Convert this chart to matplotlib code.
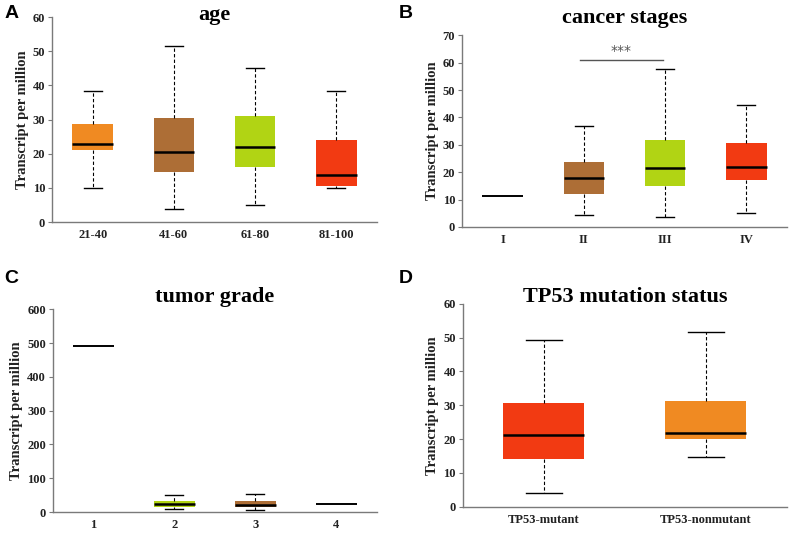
import matplotlib
matplotlib.use("Agg")
import matplotlib.pyplot as plt

# colours used in the figure
ORANGE = "#F08A22"
BROWN = "#AD6E36"
LIME = "#B1D414"
RED = "#F23A12"

# A: age
age_labels = ["21-40", "41-60", "61-80", "81-100"]
age_whislo = [10.0, 3.8, 5.0, 10.0]
age_q1 = [21.0, 14.6, 16.0, 10.6]
age_med = [22.8, 20.6, 22.0, 13.9]
age_q3 = [28.8, 30.6, 31.2, 24.0]
age_whishi = [38.5, 51.5, 45.0, 38.4]
age_colors = [ORANGE, BROWN, LIME, RED]

# B: cancer stages
stage_labels = ["I", "II", "III", "IV"]
stage_whislo = [11.3, 4.3, 3.8, 5.0]
stage_q1 = [11.3, 12.0, 15.0, 17.2]
stage_med = [11.3, 18.0, 21.6, 21.8]
stage_q3 = [11.3, 23.6, 31.7, 30.5]
stage_whishi = [11.3, 36.7, 57.6, 44.7]
stage_colors = [ORANGE, BROWN, LIME, RED]
stage_sig_pair = (2, 3)
stage_sig_y = 61
stage_sig_text = "***"

# C: tumor grade
grade_labels = ["1", "2", "3", "4"]
grade_whislo = [490.0, 8.0, 6.0, 25.0]
grade_q1 = [490.0, 16.0, 14.0, 25.0]
grade_med = [490.0, 23.6, 22.0, 25.0]
grade_q3 = [490.0, 32.0, 32.0, 25.0]
grade_whishi = [490.0, 50.0, 53.0, 25.0]
grade_colors = [ORANGE, LIME, BROWN, RED]

# D: TP53 mutation status
tp53_labels = ["TP53-mutant", "TP53-nonmutant"]
tp53_whislo = [4.0, 14.6]
tp53_q1 = [14.2, 20.0]
tp53_med = [21.3, 21.7]
tp53_q3 = [30.6, 31.2]
tp53_whishi = [49.3, 51.6]
tp53_colors = [RED, ORANGE]

SERIF = ["Liberation Serif", "DejaVu Serif"]
SANS = ["Liberation Sans", "DejaVu Sans"]


def draw_panel(ax, labels, lo, q1, med, q3, hi, colors, ymax, ystep):
    stats = []
    for i in range(len(labels)):
        stats.append({"whislo": lo[i], "q1": q1[i], "med": med[i],
                      "q3": q3[i], "whishi": hi[i], "label": labels[i]})
    pos = list(range(1, len(labels) + 1))
    bp = ax.bxp(stats, positions=pos, widths=0.5, capwidths=0.22,
                showfliers=False, patch_artist=True,
                boxprops=dict(linewidth=0),
                medianprops=dict(color="black", linewidth=1.8),
                whiskerprops=dict(color="black", linewidth=0.8, linestyle=(0, (3, 2))),
                capprops=dict(color="black", linewidth=1.0))
    for patch, c in zip(bp["boxes"], colors):
        patch.set_facecolor(c)
        patch.set_edgecolor(c)
    # degenerate groups: only one line, no caps / whiskers
    for i in range(len(labels)):
        if lo[i] == hi[i]:
            for k in (2 * i, 2 * i + 1):
                bp["caps"][k].set_visible(False)
                bp["whiskers"][k].set_visible(False)
            bp["medians"][i].set_linewidth(1.4)
    ax.set_xlim(0.5, len(labels) + 0.5)
    ax.set_ylim(0, ymax)
    ax.set_yticks(range(0, ymax + 1, ystep))
    ax.set_xticks(pos)
    ax.set_xticklabels(labels)
    for s in ("top", "right"):
        ax.spines[s].set_visible(False)
    for s in ("left", "bottom"):
        ax.spines[s].set_color("#7a7a7a")
        ax.spines[s].set_linewidth(1.0)
    ax.tick_params(axis="y", length=3, color="#7a7a7a", pad=2)
    ax.tick_params(axis="x", length=0, pad=5)
    for t in ax.get_xticklabels() + ax.get_yticklabels():
        t.set_family(SERIF)
        t.set_fontweight("bold")
        t.set_fontsize(9)
        t.set_color("#222222")
    ax.set_ylabel("Transcript per million", family=SERIF, fontweight="bold",
                  fontsize=10.5, color="#222222", labelpad=3)


def add_title(ax, text, y_px):
    box = ax.get_position()
    fig.text((box.x0 + box.x1) / 2, 1 - y_px / 534, text, family=SERIF,
             fontweight="bold", fontsize=16, ha="center", va="baseline")


fig = plt.figure(figsize=(7.9, 5.34), dpi=100)

axA = fig.add_axes([0.066, 0.584, 0.411, 0.384])
draw_panel(axA, age_labels, age_whislo, age_q1, age_med, age_q3, age_whishi,
           age_colors, 60, 10)
add_title(axA, "age", 20)

axB = fig.add_axes([0.585, 0.575, 0.411, 0.359])
draw_panel(axB, stage_labels, stage_whislo, stage_q1, stage_med, stage_q3,
           stage_whishi, stage_colors, 70, 10)
add_title(axB, "cancer stages", 23)
x0, x1 = stage_sig_pair
axB.plot([x0 - 0.05, x1 - 0.03], [stage_sig_y, stage_sig_y], color="#555555", lw=1)
axB.text((x0 + x1) / 2 - 0.04, stage_sig_y + 0.8, stage_sig_text, ha="center",
         va="bottom", color="#555555", fontsize=10)

axC = fig.add_axes([0.067, 0.041, 0.410, 0.380])
draw_panel(axC, grade_labels, grade_whislo, grade_q1, grade_med, grade_q3,
           grade_whishi, grade_colors, 600, 100)
add_title(axC, "tumor grade", 302)

axD = fig.add_axes([0.586, 0.051, 0.410, 0.380])
draw_panel(axD, tp53_labels, tp53_whislo, tp53_q1, tp53_med, tp53_q3,
           tp53_whishi, tp53_colors, 60, 10)
add_title(axD, "TP53 mutation status", 302)

for lab, (x, y) in zip("ABCD", [(0.006, 0.975), (0.505, 0.975),
                                 (0.006, 0.479), (0.505, 0.479)]):
    fig.text(x, y, lab, family=SANS, fontweight="bold", fontsize=14,
             va="center", ha="left")

fig.savefig("out.png", dpi=100)
